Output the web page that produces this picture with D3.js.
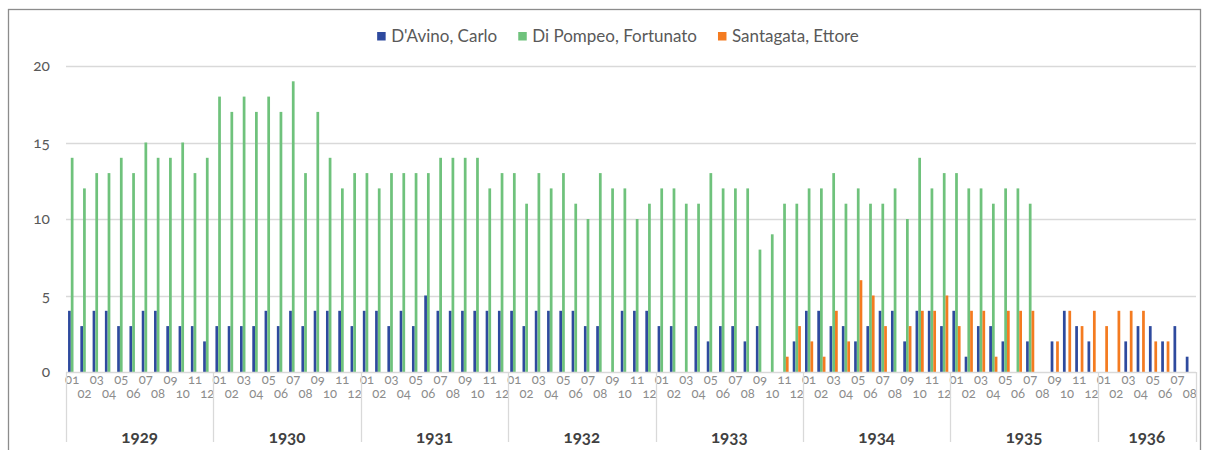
<!DOCTYPE html>
<html>
<head>
<meta charset="utf-8">
<script src="https://cdn.jsdelivr.net/npm/d3@7"></script>
<style>
  body { margin: 0; background: #fff; }
  svg { font-family: Lato, "Open Sans", sans-serif; font-feature-settings: "onum"; }
</style>
</head>
<body>
<svg id="chart" width="1208" height="450"></svg>
<script>
// categories
const years = ["1929", "1930", "1931", "1932", "1933", "1934", "1935", "1936"];
const monthLabels = ["01", "02", "03", "04", "05", "06", "07", "08", "09", "10", "11", "12"];
const monthsInLastYear = 8;

const seriesNames = ["D'Avino, Carlo", "Di Pompeo, Fortunato", "Santagata, Ettore"];
const colors = ["#2e4a9e", "#6fc27c", "#f47b20"];

// one value per month, 1929-01 .. 1936-08
const dAvino = [
  4, 3, 4, 4, 3, 3, 4, 4, 3, 3, 3, 2,
  3, 3, 3, 3, 4, 3, 4, 3, 4, 4, 4, 3,
  4, 4, 3, 4, 3, 5, 4, 4, 4, 4, 4, 4,
  4, 3, 4, 4, 4, 4, 3, 3, 0, 4, 4, 4,
  3, 3, 0, 3, 2, 3, 3, 2, 3, 0, 0, 2,
  4, 4, 3, 3, 2, 3, 4, 4, 2, 4, 4, 3,
  4, 1, 3, 3, 2, 0, 2, 0, 2, 4, 3, 2,
  0, 0, 2, 3, 3, 2, 3, 1
];
const diPompeo = [
  14, 12, 13, 13, 14, 13, 15, 14, 14, 15, 13, 14,
  18, 17, 18, 17, 18, 17, 19, 13, 17, 14, 12, 13,
  13, 12, 13, 13, 13, 13, 14, 14, 14, 14, 12, 13,
  13, 11, 13, 12, 13, 11, 10, 13, 12, 12, 10, 11,
  12, 12, 11, 11, 13, 12, 12, 12, 8, 9, 11, 11,
  12, 12, 13, 11, 12, 11, 11, 12, 10, 14, 12, 13,
  13, 12, 12, 11, 12, 12, 11, 0, 0, 0, 0, 0,
  0, 0, 0, 0, 0, 0, 0, 0
];
const santagata = [
  0, 0, 0, 0, 0, 0, 0, 0, 0, 0, 0, 0,
  0, 0, 0, 0, 0, 0, 0, 0, 0, 0, 0, 0,
  0, 0, 0, 0, 0, 0, 0, 0, 0, 0, 0, 0,
  0, 0, 0, 0, 0, 0, 0, 0, 0, 0, 0, 0,
  0, 0, 0, 0, 0, 0, 0, 0, 0, 0, 1, 3,
  2, 1, 4, 2, 6, 5, 3, 0, 3, 4, 4, 5,
  3, 4, 4, 1, 4, 4, 4, 0, 2, 4, 3, 4,
  3, 4, 4, 4, 2, 2, 0, 0
];
const yTicks = [0, 5, 10, 15, 20];

// build month list
const months = [];
years.forEach((yr, yi) => {
  const n = yi === years.length - 1 ? monthsInLastYear : 12;
  for (let m = 0; m < n; m++) months.push({ key: yr + "-" + monthLabels[m], year: yr, label: monthLabels[m], m: m });
});
const values = [dAvino, diPompeo, santagata];

const svg = d3.select("#chart");

// outer frame
svg.append("rect")
  .attr("x", 8.5).attr("y", 9.5)
  .attr("width", 1192).attr("height", 460)
  .attr("fill", "none")
  .attr("stroke", "#8c8c8c")
  .attr("stroke-width", 1.3);

const margin = { left: 66, right: 1196, top: 66, bottom: 372 };

const x = d3.scaleBand()
  .domain(months.map(d => d.key))
  .range([margin.left, margin.right])
  .paddingInner(0).paddingOuter(0);

// excel style: gap width 150%
const x1 = d3.scaleBand()
  .domain([0, 1, 2])
  .range([0, x.bandwidth()])
  .paddingInner(0).paddingOuter(0.75);

const y = d3.scaleLinear().domain([0, 20]).range([margin.bottom, margin.top]);

// gridlines
svg.append("g")
  .selectAll("line")
  .data(yTicks.filter(d => d > 0))
  .join("line")
  .attr("x1", margin.left).attr("x2", margin.right)
  .attr("y1", d => Math.round(y(d)) + 0.5).attr("y2", d => Math.round(y(d)) + 0.5)
  .attr("stroke", "#d9d9d9")
  .attr("stroke-width", 1.3);

// y labels
svg.append("g")
  .selectAll("text")
  .data(yTicks)
  .join("text")
  .attr("x", 50)
  .attr("y", d => y(d))
  .attr("dy", "0.35em")
  .attr("text-anchor", "end")
  .attr("font-size", 15.5)
  .attr("fill", "#595959")
  .text(d => d);

// bars
const groups = svg.append("g")
  .selectAll("g")
  .data(months)
  .join("g")
  .attr("transform", d => `translate(${x(d.key)},0)`);

groups.selectAll("rect")
  .data((d, i) => values.map((v, s) => ({ s: s, v: v[i] })))
  .join("rect")
  .attr("x", d => x1(d.s))
  .attr("width", x1.bandwidth())
  .attr("y", d => y(d.v))
  .attr("height", d => y(0) - y(d.v))
  .attr("fill", d => colors[d.s]);

// baseline of category axis
svg.append("line")
  .attr("x1", margin.left).attr("x2", margin.right)
  .attr("y1", margin.bottom + 0.5).attr("y2", margin.bottom + 0.5)
  .attr("stroke", "#d9d9d9")
  .attr("stroke-width", 1.3);

// month labels, two staggered rows
svg.append("g")
  .selectAll("text")
  .data(months)
  .join("text")
  .attr("x", d => x(d.key) + x.bandwidth() / 2)
  .attr("y", d => d.m % 2 === 0 ? 384 : 398)
  .attr("text-anchor", "middle")
  .attr("font-size", 13)
  .attr("fill", "#8c8c8c")
  .text(d => d.label);

// year separators and labels
const yearSpans = years.map(yr => {
  const ms = months.filter(d => d.year === yr);
  return { year: yr, x0: x(ms[0].key), x1: x(ms[ms.length - 1].key) + x.bandwidth() };
});

svg.append("g")
  .selectAll("line")
  .data(yearSpans.map(d => d.x0).concat([margin.right]))
  .join("line")
  .attr("x1", d => Math.round(d) + 0.5).attr("x2", d => Math.round(d) + 0.5)
  .attr("y1", margin.bottom).attr("y2", 442)
  .attr("stroke", "#d9d9d9")
  .attr("stroke-width", 1.3);

svg.append("g")
  .selectAll("text")
  .data(yearSpans)
  .join("text")
  .attr("x", d => (d.x0 + d.x1) / 2)
  .attr("y", 443)
  .attr("text-anchor", "middle")
  .attr("font-size", 17)
  .attr("font-weight", "bold")
  .attr("fill", "#404040")
  .text(d => d.year);

// legend, laid out from measured text widths and centred
const legend = svg.append("g");
const items = legend.selectAll("g")
  .data(seriesNames)
  .join("g");

items.append("rect")
  .attr("x", 0).attr("y", 32)
  .attr("width", 8.5).attr("height", 8.5)
  .attr("fill", (d, i) => colors[i]);

items.append("text")
  .attr("x", 14)
  .attr("y", 36.5)
  .attr("dy", "0.35em")
  .attr("font-size", 17)
  .attr("fill", "#595959")
  .text(d => d);

let pos = 0;
const offsets = [];
items.each(function () {
  offsets.push(pos);
  pos += 14 + d3.select(this).select("text").node().getComputedTextLength() + 21;
});
const totalW = pos - 21;
const startX = 618 - totalW / 2;
items.attr("transform", (d, i) => `translate(${startX + offsets[i]},0)`);
</script>
</body>
</html>
